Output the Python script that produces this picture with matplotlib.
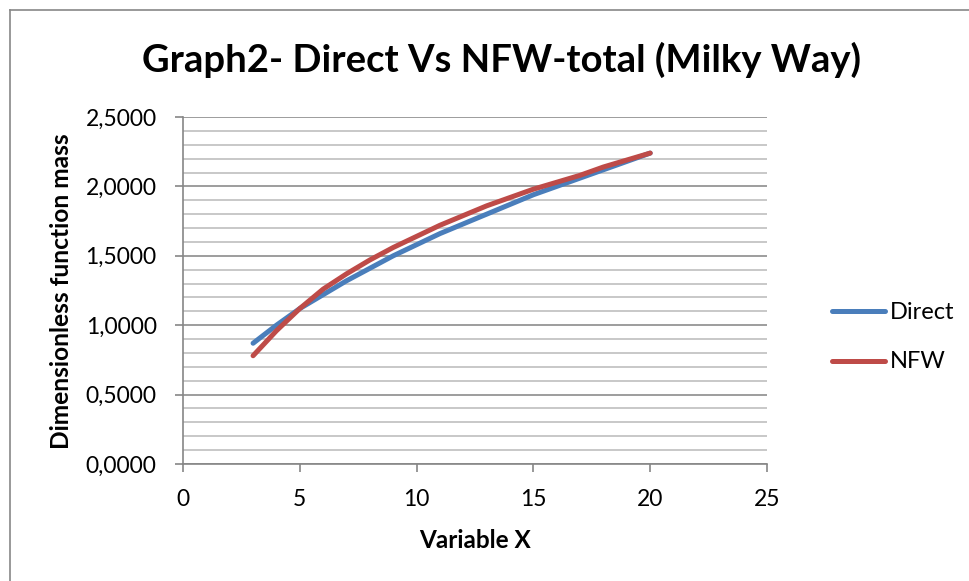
import matplotlib
matplotlib.use("Agg")
import matplotlib.pyplot as plt
from matplotlib.ticker import MultipleLocator, FuncFormatter
from matplotlib.lines import Line2D

x_vals = [3, 4, 5, 6, 7, 8, 9, 10, 11, 12, 13, 14, 15, 16, 17, 18, 19, 20]
direct = [0.87, 1.00, 1.12, 1.22, 1.32, 1.41, 1.50, 1.58, 1.66, 1.73, 1.80, 1.87, 1.94, 2.00, 2.06, 2.12, 2.18, 2.24]
nfw = [0.78, 0.96, 1.12, 1.26, 1.37, 1.47, 1.56, 1.64, 1.72, 1.79, 1.86, 1.92, 1.98, 2.03, 2.08, 2.14, 2.19, 2.24]
series_names = ["Direct", "NFW"]
title = "Graph2- Direct Vs NFW-total (Milky Way)"
xlabel = "Variable X"
ylabel = "Dimensionless function mass"

FONT = "Lato"
W, H = 970, 581
fig = plt.figure(figsize=(W / 100, H / 100), dpi=100)

fig.add_artist(Line2D([10 / W, 10 / W], [0, 1 - 10 / H], transform=fig.transFigure, color="#888888", lw=1.2))
fig.add_artist(Line2D([10 / W, 1], [1 - 10 / H, 1 - 10 / H], transform=fig.transFigure, color="#888888", lw=1.2))

ax = fig.add_axes([183 / W, 1 - 464 / H, (767 - 183) / W, (464 - 117) / H])
ax.set_xlim(0, 25)
ax.set_ylim(0, 2.5)

ax.yaxis.set_major_locator(MultipleLocator(0.5))
ax.yaxis.set_minor_locator(MultipleLocator(0.1))
ax.xaxis.set_major_locator(MultipleLocator(5))
ax.yaxis.set_major_formatter(FuncFormatter(lambda v, p: f"{v:.4f}".replace(".", ",")))

ax.grid(which="major", axis="y", color="#8c8c8c", lw=1.2)
ax.grid(which="minor", axis="y", color="#bfbfbf", lw=1.2)
ax.set_axisbelow(True)

for s in ["top", "right"]:
    ax.spines[s].set_visible(False)
for s in ["left", "bottom"]:
    ax.spines[s].set_color("#868686")
    ax.spines[s].set_linewidth(1.2)

TICK_FS = 15.5
ax.tick_params(axis="both", which="major", direction="out", length=6, width=1.2, color="#868686",
               labelsize=TICK_FS)
ax.tick_params(axis="y", which="major", pad=13)
ax.tick_params(axis="x", which="major", pad=12)
ax.tick_params(axis="y", which="minor", length=0)
for lab in ax.get_xticklabels() + ax.get_yticklabels():
    lab.set_fontfamily(FONT)

ax.plot(x_vals, direct, color="#4A7EBB", lw=3.6, solid_capstyle="round", solid_joinstyle="round",
        label=series_names[0])
ax.plot(x_vals, nfw, color="#BE4B48", lw=3.6, solid_capstyle="round", solid_joinstyle="round",
        label=series_names[1])

xl = fig.text(475 / W, 1 - 541 / H, xlabel, ha="center", va="center", fontsize=16, fontweight="bold", fontfamily=FONT)
yl = fig.text(62 / W, 1 - 291 / H, ylabel, ha="center", va="center", rotation=90, fontsize=15,
              fontweight="bold", fontfamily=FONT)
tt = fig.text(502 / W, 1 - 60 / H, title, ha="center", va="center", fontsize=27, fontweight="bold", fontfamily=FONT)

leg = ax.legend(loc="center left", bbox_to_anchor=(812 / W, 1 - 337 / H), bbox_transform=fig.transFigure,
                frameon=False, prop={"family": FONT, "size": 16}, handlelength=2.4, handletextpad=0.2,
                labelspacing=1.3)

# fit text widths to those measured in the reference
fig.canvas.draw()
r = fig.canvas.get_renderer()
def fit(t, target):
    w = t.get_window_extent(r)
    size = w.width if t.get_rotation() == 0 else w.height
    t.set_fontsize(t.get_fontsize() * target / size)
fit(tt, 719)
fit(xl, 112)
fit(yl, 317)
fit(leg.get_texts()[0], 65)
leg.get_texts()[1].set_fontsize(leg.get_texts()[0].get_fontsize())
ylab = [t for t in ax.get_yticklabels() if t.get_text() == "2,5000"][0]
wt = ylab.get_window_extent(r).width
fs = TICK_FS * 71 / wt
ax.tick_params(axis="both", which="major", labelsize=fs)

fig.savefig("out.png", dpi=100)
